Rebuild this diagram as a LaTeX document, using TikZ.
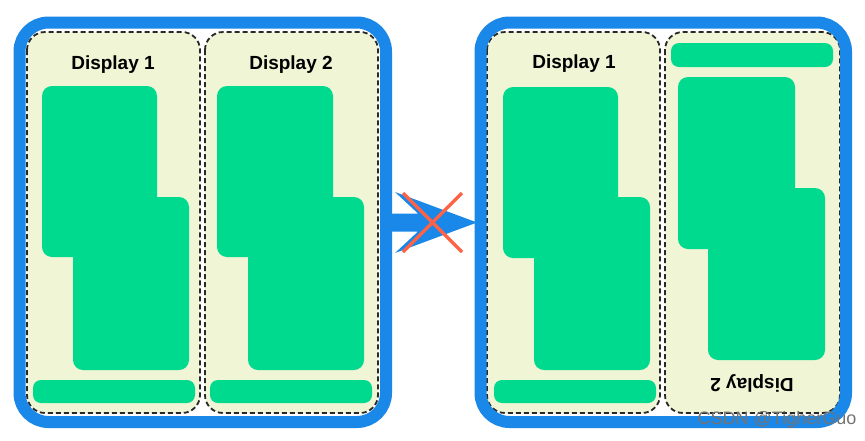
\documentclass[tikz,border=0pt]{standalone}
\usepackage{fontspec}
\setmainfont{Liberation Sans}
\definecolor{frameblue}{RGB}{26,136,232}
\definecolor{panelbg}{RGB}{239,245,213}
\definecolor{wingreen}{RGB}{0,218,142}
\definecolor{crossred}{RGB}{255,99,71}
\definecolor{dashgray}{RGB}{40,40,40}
\tikzset{
  frame/.style={draw=frameblue, line width=12pt, rounded corners=29pt},
  panel/.style={fill=panelbg, draw=dashgray, line width=1.8pt, dash pattern=on 5pt off 3pt, rounded corners=18pt},
  win/.style={fill=wingreen, rounded corners=10pt},
  bar/.style={fill=wingreen, rounded corners=8pt},
  title/.style={font=\bfseries\fontsize{19}{21}\selectfont, text=black, inner sep=0pt},
  cross/.style={draw=crossred, line width=3.5pt},
}
\begin{document}
\begin{tikzpicture}[x=1pt,y=-1pt]
\useasboundingbox (0,0) rectangle (865,440);
\fill[white] (0,0) rectangle (865,440);

% ---------- left frame ----------
\path[panel] (27,32) rectangle (200,413);
\path[panel] (205,32) rectangle (378,413);
\path[win] (42,86) rectangle (157,257);
\path[win] (73,197) rectangle (189,370);
\path[bar] (33,380) rectangle (195,403);
\path[win] (217,86) rectangle (333,257);
\path[win] (248,197) rectangle (364,370);
\path[bar] (210,380) rectangle (372,403);
\node[title] (t1) at (113,65) {Display 1};
\node[title] (t2) at (291,65) {Display 2};
\path[frame] (19.5,22.5) rectangle (386,422);

% ---------- right frame ----------
\path[panel] (487,32) rectangle (660,413);
\path[panel] (665,32) rectangle (840,413);
\path[win] (503,87) rectangle (618,258);
\path[win] (534,197) rectangle (650,370);
\path[bar] (494,380) rectangle (656,403);
\path[bar] (671,43) rectangle (833,67);
\path[win] (678,77) rectangle (795,249);
\path[win] (708,188) rectangle (825,360);
\node[title] (t3) at (574,64) {Display 1};
\node[title, rotate=180] (t4) at (752,383) {Display 2};
\path[frame] (480.5,22.5) rectangle (846,422);

% ---------- arrow with cross ----------
\coordinate (tip) at (477,222.5);
\coordinate (wu) at (395,192);
\coordinate (wl) at (395,253);
\fill[frameblue] (tip) -- (wu) -- (418,213.5) -- (388,213.5) -- (388,231.5) -- (418,231.5) -- (wl) -- cycle;
\coordinate (xa) at (403,193);
\coordinate (xb) at (462,252);
\coordinate (xc) at (462,193);
\coordinate (xd) at (403,252);
\draw[cross] (xa) -- (xb);
\draw[cross] (xc) -- (xd);

% ---------- watermark ----------
\node[font=\fontsize{18}{20}\selectfont, text=gray!90!black, inner sep=0pt] (wm) at (777,420) {CSDN @TigherGuo};
\end{tikzpicture}
\end{document}
